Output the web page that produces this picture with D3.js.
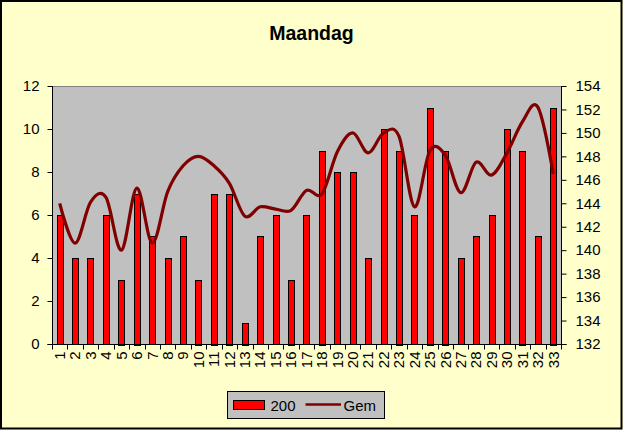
<!DOCTYPE html>
<html>
<head>
<meta charset="utf-8">
<script src="https://cdn.jsdelivr.net/npm/d3@7"></script>
<style>
  html, body { margin: 0; padding: 0; background: #FFFFCC; }
  svg { display: block; }
  text { font-family: "Liberation Sans", Arial, sans-serif; }
</style>
</head>
<body>
<svg id="chart" width="623" height="430"></svg>
<script>
const title = "Maandag";
const categories = ["1","2","3","4","5","6","7","8","9","10","11","12","13","14","15","16","17","18","19","20","21","22","23","24","25","26","27","28","29","30","31","32","33"];
const barValues = [6,4,4,6,3,7,5,4,5,3,7,7,1,5,6,3,6,9,8,8,4,10,9,6,11,9,4,5,6,10,9,5,11];
const gemValues = [144.0,140.6,144.1,144.5,140.0,145.3,140.6,145.0,147.2,148.0,147.2,145.7,142.9,143.7,143.5,143.4,145.1,144.8,148.4,150.0,148.3,150.0,149.7,143.7,148.5,148.1,144.9,147.5,146.4,148.3,150.95,152.2,146.5];
const leftTicks = [0,2,4,6,8,10,12];
const rightTicks = [132,134,136,138,140,142,144,146,148,150,152,154];
const barSeriesName = "200";
const lineSeriesName = "Gem";

const svg = d3.select("#chart");
const W = 623, H = 430;
const plot = {left: 52, right: 561, top: 86, bottom: 344};

// background + border
svg.append("rect").attr("x", 0).attr("y", 0).attr("width", W).attr("height", H).attr("fill", "#FFFFCC");
svg.append("rect").attr("x", 1).attr("y", 1).attr("width", 620.5).attr("height", 427.5)
  .attr("fill", "none").attr("stroke", "#000").attr("stroke-width", 2);

// title
svg.append("text").attr("x", 311.5).attr("y", 40).attr("text-anchor", "middle")
  .attr("font-size", 19.5).attr("font-weight", "bold").attr("fill", "#000").text(title);

const x = d3.scaleBand().domain(categories).range([plot.left, plot.right]).paddingInner(0).paddingOuter(0);
const yL = d3.scaleLinear().domain([0, 12]).range([plot.bottom, plot.top]);
const yR = d3.scaleLinear().domain([132, 154]).range([plot.bottom, plot.top]);

// plot area
svg.append("rect").attr("x", plot.left).attr("y", plot.top)
  .attr("width", plot.right - plot.left).attr("height", plot.bottom - plot.top).attr("fill", "#C0C0C0");
svg.append("line").attr("x1", plot.left).attr("x2", plot.right).attr("y1", plot.top + 0.5).attr("y2", plot.top + 0.5)
  .attr("stroke", "#808080").attr("stroke-width", 1);

// bars
const bw = x.bandwidth() / 2.5;
svg.append("g").selectAll("rect").data(barValues).join("rect")
  .attr("x", (d, i) => Math.round(x(categories[i]) + x.bandwidth() / 2 - bw / 2) + 0.5)
  .attr("y", d => Math.round(yL(d)) + 0.5)
  .attr("width", Math.round(bw))
  .attr("height", d => Math.round(plot.bottom - yL(d)))
  .attr("fill", "#FF0000").attr("stroke", "#000").attr("stroke-width", 1);

// line
const line = d3.line()
  .x((d, i) => x(categories[i]) + x.bandwidth() / 2)
  .y(d => yR(d))
  .curve(d3.curveCardinal.tension(0));
svg.append("path").datum(gemValues).attr("d", line)
  .attr("fill", "none").attr("stroke", "#800000").attr("stroke-width", 3.2)
  .attr("stroke-linejoin", "round").attr("stroke-linecap", "butt");

// left axis
const fontSize = 15;
const gL = svg.append("g").attr("transform", `translate(${plot.left + 0.5},0)`)
  .call(d3.axisLeft(yL).tickValues(leftTicks).tickSize(5).tickPadding(8).tickFormat(d3.format("d")));
gL.select(".domain").attr("stroke", "#000").attr("d", `M-5,${plot.bottom + 0.5}H0V${plot.top}`);
gL.selectAll(".tick line").attr("stroke", "#000");
gL.selectAll(".tick text").attr("font-size", fontSize).attr("fill", "#000")
  .attr("font-family", "'Liberation Sans', Arial, sans-serif");

// right axis
const gR = svg.append("g").attr("transform", `translate(${plot.right + 0.5},0)`)
  .call(d3.axisRight(yR).tickValues(rightTicks).tickSize(5).tickPadding(9).tickFormat(d3.format("d")));
gR.select(".domain").attr("stroke", "#000").attr("d", `M5,${plot.bottom + 0.5}H0V${plot.top}`);
gR.selectAll(".tick line").attr("stroke", "#000");
gR.selectAll(".tick text").attr("font-size", fontSize).attr("fill", "#000")
  .attr("font-family", "'Liberation Sans', Arial, sans-serif");

// x axis
const gX = svg.append("g").attr("transform", `translate(0,${plot.bottom + 0.5})`);
gX.append("line").attr("x1", plot.left).attr("x2", plot.right).attr("stroke", "#000");
const bounds = categories.map(c => x(c)).concat([plot.right]);
gX.selectAll("line.tk").data(bounds).join("line").attr("class", "tk")
  .attr("x1", d => Math.round(d) + 0.5).attr("x2", d => Math.round(d) + 0.5)
  .attr("y1", 0).attr("y2", 5).attr("stroke", "#000");
gX.selectAll("text").data(categories).join("text")
  .attr("transform", d => `translate(${x(d) + x.bandwidth() / 2},7) rotate(-90)`)
  .attr("dy", "0.35em").attr("text-anchor", "end")
  .attr("font-size", fontSize).attr("fill", "#000").text(d => d);

// legend
const lg = svg.append("g");
lg.append("rect").attr("x", 227.5).attr("y", 391.5).attr("width", 157).attr("height", 27)
  .attr("fill", "#C0C0C0").attr("stroke", "#000").attr("stroke-width", 1);
lg.append("rect").attr("x", 233.5).attr("y", 400.5).attr("width", 31).attr("height", 9)
  .attr("fill", "#FF0000").attr("stroke", "#000");
lg.append("text").attr("x", 270.5).attr("y", 410.5).attr("font-size", fontSize).attr("fill", "#000").text(barSeriesName);
lg.append("line").attr("x1", 305.5).attr("x2", 341).attr("y1", 404.5).attr("y2", 404.5)
  .attr("stroke", "#800000").attr("stroke-width", 2.5);
lg.append("text").attr("x", 343.5).attr("y", 410.5).attr("font-size", fontSize).attr("fill", "#000").text(lineSeriesName);
</script>
</body>
</html>
